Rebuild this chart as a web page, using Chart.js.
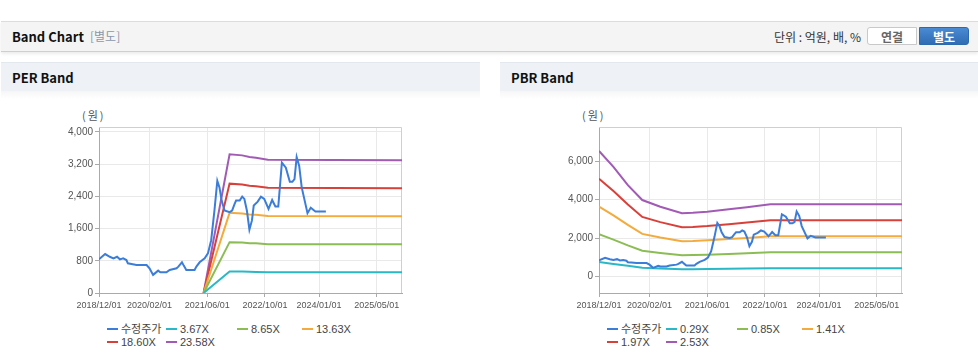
<!DOCTYPE html>
<html>
<head>
  <meta charset="utf-8">
  <title>Band Chart</title>
  <style>
    body {
      margin: 0;
      width: 978px;
      height: 361px;
      overflow: hidden;
      background: #fff;
      position: relative;
      font-family: "Noto Sans CJK KR", "Noto Sans", sans-serif;
    }
    .topbar {
      position: absolute;
      left: 1px; right: 0; top: 21px;
      height: 29px;
      background: #f4f4f4;
      border-top: 1px solid #dcdcdc;
      border-bottom: 1px solid #cfcfcf;
      box-shadow: 0 2px 3px rgba(0, 0, 0, 0.08);
    }
    .topbar .title {
      position: absolute; left: 11px; top: 5px;
      font-size: 13px; font-weight: bold; color: #111;
    }
    .topbar .sub {
      position: absolute; left: 89px; top: 5px;
      font-size: 12px; color: #8a97aa;
    }
    .topbar .unit {
      position: absolute; right: 117px; top: 6px;
      font-size: 12px; color: #333;
    }
    .btn {
      position: absolute; top: 5px; height: 18px; width: 50px;
      font-size: 12px; font-weight: bold; text-align: center; line-height: 18px;
      box-sizing: border-box;
    }
    .btn.off { left: 866px; background: #fff; color: #666; border: 1px solid #c9c9c9; border-radius: 3px 0 0 3px; }
    .btn.on  { left: 918px; background: linear-gradient(#4a8bd3, #2f6cb4); color: #fff; border: 1px solid #2d69ad; border-radius: 0 3px 3px 0; }
    .panelhead {
      position: absolute; top: 62px; height: 29px;
      background: #eef1f6;
      border-top: 1px solid #e3e7ee;
      box-sizing: border-box;
    }
    .panelhead span {
      position: absolute; left: 11px; top: 5px;
      font-size: 13px; font-weight: bold; color: #111;
    }
    .fade {
      position: absolute; top: 91px; height: 8px;
      background: linear-gradient(#f6f6f6, #fff);
    }
    .chartbox {
      position: absolute; top: 100px; width: 480px; height: 220px;
    }
    .unitlabel {
      position: absolute; top: 107px;
      font-size: 11px; color: #555; letter-spacing: 2px;
    }
    .legend {
      position: absolute; top: 321px; width: 480px; height: 30px;
    }
    .legend .item {
      position: absolute; height: 14px; line-height: 14px;
      font-family: "Liberation Sans", "Noto Sans CJK KR", sans-serif;
      font-size: 11px; color: #444; white-space: nowrap;
    }
    .legend .item i {
      display: inline-block; width: 11px; height: 2px;
      vertical-align: middle; margin-right: 3px; margin-top: -2px;
    }
  </style>
</head>
<body>

  <div class="topbar">
    <div class="title">Band Chart</div>
    <div class="sub">[별도]</div>
    <div class="unit">단위 : 억원, 배, %</div>
    <div class="btn off">연결</div>
    <div class="btn on">별도</div>
  </div>

  <div class="panelhead" style="left:1px; width:479px;"><span>PER Band</span></div>
  <div class="panelhead" style="left:500px; width:478px;"><span>PBR Band</span></div>
  <div class="fade" style="left:1px; width:479px;"></div>
  <div class="fade" style="left:500px; width:478px;"></div>

  <div class="unitlabel" style="left:82px;">(원)</div>
  <div class="unitlabel" style="left:582px;">(원)</div>

  <div class="chartbox" style="left:0;"><canvas id="perChart"></canvas></div>
  <div class="chartbox" style="left:500px;"><canvas id="pbrChart"></canvas></div>

  <div class="legend" id="perLegend" style="left:0;"></div>
  <div class="legend" id="pbrLegend" style="left:500px;"></div>

<script src="https://cdn.jsdelivr.net/npm/chart.js"></script>
<script>
  // x = months since 2018/12/01
  const xTickMonths = [0, 14, 30, 46, 61, 77];
  const xTickLabels = ['2018/12/01', '2020/02/01', '2021/06/01', '2022/10/01', '2024/01/01', '2025/05/01'];

  // 수정주가 (shared by both charts)
  const priceMonths = [0, 1.7, 3, 4, 5, 5.8, 6.7, 7.6, 8, 9, 10.4, 13.2, 14, 15, 16.4, 17, 18.7, 19.6, 21.5, 22,
    23, 23.5, 24.2, 26.5, 27, 27.9, 29.3, 30.2, 31.1, 32, 32.8, 33.4, 34, 34.8, 36.2, 36.9, 37.6, 38, 39, 39.7,
    40.3, 41, 41.7, 42.4, 42.9, 44, 44.9, 45.8, 47, 48, 48.9, 49.7, 50.7, 51.8, 52.9, 53.6, 54.2, 54.8, 55.5, 56.2,
    57.8, 58.7, 60, 62.9];
  const priceValues = [836, 967, 900, 860, 900, 836, 860, 819, 738, 721, 696, 696, 615, 450, 556, 516, 516, 573, 615, 655,
    762, 680, 573, 573, 655, 762, 860, 984, 1311, 2049, 2787, 2623, 2295, 2049, 2008, 2049, 2214, 2295, 2295, 2394,
    2337, 2049, 1574, 1803, 2172, 2270, 2394, 2337, 2091, 2312, 2148, 2148, 3237, 3114, 2763, 2763, 2829, 3378, 3156, 2623,
    1983, 2116, 2025, 2025];

  // PER band
  const perLabels = ['3.67X', '8.65X', '13.63X', '18.60X', '23.58X'];
  const perBandMonths = [29, 36.2, 39.7, 41.7, 43.5, 46.8, 84];
  const per367 = [0, 536, 532, 526, 523, 515, 513];
  const per865 = [0, 1263, 1254, 1239, 1233, 1214, 1209];
  const per1363 = [0, 1991, 1976, 1953, 1943, 1914, 1905];
  const per1860 = [0, 2717, 2697, 2665, 2651, 2612, 2600];
  const per2358 = [0, 3444, 3419, 3378, 3361, 3311, 3296];
  const perYTicks = [0, 800, 1600, 2400, 3200, 4000];

  // PBR band
  const pbrLabels = ['0.29X', '0.85X', '1.41X', '1.97X', '2.53X'];
  const pbrBandMonths = [0, 4, 8, 12, 17, 23, 26, 30, 36, 41, 47.5, 84];
  const pbr029 = [749, 654, 552, 456, 416, 377, 379, 386, 400, 412, 430, 430];
  const pbr085 = [2195, 1918, 1617, 1336, 1220, 1105, 1112, 1132, 1174, 1209, 1261, 1261];
  const pbr141 = [3641, 3182, 2682, 2216, 2023, 1834, 1845, 1878, 1947, 2005, 2092, 2092];
  const pbr197 = [5087, 4446, 3748, 3097, 2827, 2562, 2578, 2624, 2721, 2802, 2923, 2923];
  const pbr253 = [6533, 5704, 4750, 3977, 3630, 3290, 3310, 3370, 3494, 3598, 3754, 3754];
  const pbrYTicks = [0, 2000, 4000, 6000];

  const colors = ['#3b7dd8', '#2ab8c6', '#8cbd54', '#f4ab3c', '#d8403a', '#a25bb5'];

  function pts(xs, ys) {
    return xs.map((x, i) => ({ x: x, y: ys[i] }));
  }

  const framePlugin = {
    id: 'frame',
    beforeDatasetsDraw(chart) {
      const a = chart.chartArea, ctx = chart.ctx;
      ctx.save();
      ctx.strokeStyle = '#cfcfcf';
      ctx.lineWidth = 1;
      ctx.beginPath();
      ctx.moveTo(a.left, a.top + 0.5);
      ctx.lineTo(a.right - 0.5, a.top + 0.5);
      ctx.lineTo(a.right - 0.5, a.bottom);
      ctx.stroke();
      ctx.restore();
    }
  };

  function createChart(canvasId, legendId, bandMonths, bands, labels, yMin, yMax, yTicks) {
    const datasets = [{ label: '수정주가', data: pts(priceMonths, priceValues) }];
    bands.forEach((b, i) => datasets.push({ label: labels[i], data: pts(bandMonths, b) }));
    datasets.forEach((d, i) => {
      d.borderColor = colors[i];
      d.backgroundColor = colors[i];
      d.borderWidth = 2;
      d.pointRadius = 0;
      d.tension = 0;
    });

    const chart = new Chart(document.getElementById(canvasId), {
      type: 'line',
      data: { datasets: datasets },
      options: {
        responsive: true,
        maintainAspectRatio: false,
        animation: false,
        layout: { padding: { left: 0, top: 27, right: 78, bottom: 0 } },
        plugins: { legend: { display: false }, tooltip: { enabled: false } },
        scales: {
          x: {
            type: 'linear', min: 0, max: 84,
            afterFit: s => { s.height = 27; },
            afterBuildTicks: s => { s.ticks = xTickMonths.map(v => ({ value: v })); },
            grid: { color: '#e9e9e9', tickColor: '#aaa', tickLength: 4 },
            border: { color: '#aaa' },
            ticks: {
              autoSkip: false, maxRotation: 0, padding: 3,
              color: '#555', font: { family: 'Liberation Sans', size: 9 },
              callback: v => xTickLabels[xTickMonths.indexOf(v)]
            }
          },
          y: {
            min: yMin, max: yMax,
            afterFit: s => { s.width = 99; },
            afterBuildTicks: s => { s.ticks = yTicks.map(v => ({ value: v })); },
            grid: { color: '#e9e9e9', tickColor: '#aaa', tickLength: 4 },
            border: { color: '#aaa' },
            ticks: {
              padding: 2, color: '#555', font: { family: 'Liberation Sans', size: 10 },
              callback: v => v.toLocaleString('en-US')
            }
          }
        }
      },
      plugins: [framePlugin]
    });

    // legend in fixed columns
    const cols = [107, 166, 237, 302];
    const box = document.getElementById(legendId);
    chart.data.datasets.forEach((d, i) => {
      const el = document.createElement('div');
      el.className = 'item';
      el.style.left = cols[i % 4] + 'px';
      el.style.top = (i < 4 ? 1 : 14) + 'px';
      el.innerHTML = '<i style="background:' + d.borderColor + '"></i>' + d.label;
      box.appendChild(el);
    });
    return chart;
  }

  createChart('perChart', 'perLegend', perBandMonths, [per367, per865, per1363, per1860, per2358], perLabels, 0, 4124, perYTicks);
  createChart('pbrChart', 'pbrLegend', pbrBandMonths, [pbr029, pbr085, pbr141, pbr197, pbr253], pbrLabels, -861, 7778, pbrYTicks);
</script>

</body>
</html>
